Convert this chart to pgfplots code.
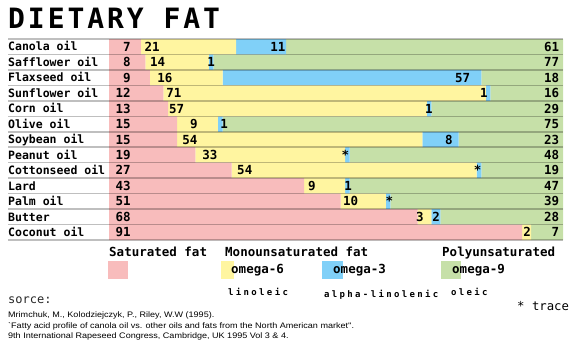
\documentclass[border=0pt]{standalone}
\usepackage{pgfplots}
\pgfplotsset{compat=1.18}
\usepackage{pgfplotstable}
\usepackage{fontspec}
\setmainfont{DejaVu Sans Mono}
\newfontfamily\mono{DejaVu Sans Mono}
\newfontfamily\monols{DejaVu Sans Mono}[LetterSpace=26]
\newfontfamily\titlefont{DejaVu Sans Mono}[LetterSpace=10.5]
\newfontfamily\citefont{Liberation Sans}[FakeStretch=1.13]
\definecolor{pinkc}{HTML}{F8BCBC}
\definecolor{yelc}{HTML}{FFF5A0}
\definecolor{bluec}{HTML}{80D0F8}
\definecolor{greenc}{HTML}{C6E0A8}

\pgfplotstableread{
row sat om6 om3 om9
0 7 21 11 61
1 8 14 1 77
2 9 16 57 18
3 12 71 1 16
4 13 57 1 29
5 15 9 1 75
6 15 54 8 23
7 19 33 1 48
8 27 54 1 19
9 43 9 1 47
10 51 10 1 39
11 68 3 2 28
12 91 2 0 7
}\fatdata

\newcommand{\numfont}{\mono\bfseries\fontsize{12.5bp}{14bp}\selectfont}

\begin{document}
\begin{tikzpicture}
\path[use as bounding box] (0,0) rectangle (580bp,-347bp);
\pgfplotsset{common/.style={
  at={(109bp,-39bp)}, anchor=north west,
  scale only axis, width=454bp, height=201bp,
  xmin=0, xmax=100, ymin=-0.5, ymax=12.5, y dir=reverse}}
\begin{axis}[common,
  xbar stacked, bar width=15.4615bp,
  hide x axis,
  y axis line style={draw=none},
  major tick length=0pt,
  ytick={0,...,12},
  yticklabels={Canola oil,Safflower oil,Flaxseed oil,Sunflower oil,Corn oil,Olive oil,Soybean oil,Peanut oil,Cottonseed oil,Lard,Palm oil,Butter,Coconut oil},
  yticklabel style={anchor=west, inner sep=0pt, xshift=-101bp, text height=8.4bp, text depth=0pt,
    font=\mono\bfseries\fontsize{11.5bp}{12bp}\selectfont},
]
\addplot[fill=pinkc, draw=none] table[x=sat,y=row]{\fatdata};
\addplot[fill=yelc, draw=none] table[x=om6,y=row]{\fatdata};
\addplot[fill=bluec, draw=none] table[x=om3,y=row]{\fatdata};
\addplot[fill=greenc, draw=none] table[x=om9,y=row]{\fatdata};
\end{axis}
\begin{axis}[common, hide axis, clip=false,
  every node near coord/.append style={inner sep=0pt, text height=9.1bp, text depth=0pt, font=\numfont, black},
  nodes near coords={\pgfplotspointmeta}, point meta=explicit symbolic]
\addplot[only marks, mark=none, every node near coord/.append style={anchor=east}] coordinates {
(4.8,0)[7] (4.8,1)[8] (4.8,2)[9] (4.8,3)[12] (4.8,4)[13] (4.8,5)[15] (4.8,6)[15]
(4.8,7)[19] (4.8,8)[27] (4.8,9)[43] (4.8,10)[51] (4.8,11)[68] (4.8,12)[91]};
\addplot[only marks, mark=none, every node near coord/.append style={anchor=west}] coordinates {
(7.8,0)[21] (9.0,1)[14] (10.6,2)[16] (12.6,3)[71] (13.2,4)[57] (17.8,5)[9] (16.1,6)[54]
(20.5,7)[33] (28.2,8)[54] (43.8,9)[9] (51.5,10)[10] (67.6,11)[3] (91.2,12)[2]};
\addplot[only marks, mark=none, every node near coord/.append style={anchor=west}] coordinates {
(35.5,0)[11] (21.6,1)[1] (76.2,2)[57] (81.7,3)[1] (69.6,4)[1] (24.5,5)[1] (74,6)[8]
(51.2,7)[*] (80.3,8)[*] (51.8,9)[1] (60.9,10)[*] (71.2,11)[2]};
\addplot[only marks, mark=none, every node near coord/.append style={anchor=east}] coordinates {
(99.2,0)[61] (99.2,1)[77] (99.2,2)[18] (99.2,3)[16] (99.2,4)[29] (99.2,5)[75] (99.2,6)[23]
(99.2,7)[48] (99.2,8)[19] (99.2,9)[47] (99.2,10)[39] (99.2,11)[28] (99.2,12)[7]};
\end{axis}
\foreach \i in {0,...,13}
  \draw[black, opacity=0.25, line width=1.5bp] (8bp,{-39bp-\i*15.4615bp}) -- (563bp,{-39bp-\i*15.4615bp});
% title
\node[anchor=west, inner sep=0pt] at (8bp,-18bp) {\titlefont\bfseries\fontsize{28bp}{30bp}\selectfont DIETARY FAT};
% legend
\begin{scope}[every node/.style={anchor=west, inner sep=0pt, text height=9.1bp, text depth=0pt}]
\node at (109bp,-252bp) {\mono\bfseries\fontsize{12.5bp}{14bp}\selectfont Saturated fat};
\node at (225bp,-252bp) {\mono\bfseries\fontsize{12.5bp}{14bp}\selectfont Monounsaturated fat};
\node at (442bp,-252bp) {\mono\bfseries\fontsize{12.5bp}{14bp}\selectfont Polyunsaturated};
\fill[pinkc] (108bp,-261bp) rectangle (128bp,-279bp);
\fill[yelc] (221bp,-261bp) rectangle (234bp,-279bp);
\fill[bluec] (322bp,-261bp) rectangle (343bp,-279bp);
\fill[greenc] (441bp,-261bp) rectangle (461bp,-279bp);
\node at (231bp,-269bp) {\mono\bfseries\fontsize{12.5bp}{14bp}\selectfont omega-6};
\node at (333bp,-269bp) {\mono\bfseries\fontsize{12.5bp}{14bp}\selectfont omega-3};
\node at (452bp,-269bp) {\mono\bfseries\fontsize{12.5bp}{14bp}\selectfont omega-9};
\end{scope}
\begin{scope}[every node/.style={anchor=west, inner sep=0pt, text height=6.5bp, text depth=0pt}]
\node at (228bp,-292bp) {\monols\bfseries\fontsize{9bp}{10bp}\selectfont linoleic};
\node at (324bp,-294bp) {\monols\bfseries\fontsize{9bp}{10bp}\selectfont alpha-linolenic};
\node at (451bp,-292bp) {\monols\bfseries\fontsize{9bp}{10bp}\selectfont oleic};
\end{scope}
\node[anchor=west, inner sep=0pt, text height=6.6bp, text depth=0pt] at (517bp,-307bp) {\mono\fontsize{12.3bp}{14bp}\selectfont * trace};
\node[anchor=west, inner sep=0pt, text height=6.6bp, text depth=0pt, text=black!85] at (8bp,-300bp) {\mono\fontsize{12bp}{14bp}\selectfont sorce:};
\begin{scope}[every node/.style={anchor=west, inner sep=0pt, text height=5.2bp, text depth=0pt}]
\node at (8bp,-315bp) {\citefont\fontsize{8bp}{9bp}\selectfont Mrimchuk, M., Kolodziejczyk, P., Riley, W.W (1995).};
\node at (8bp,-325.5bp) {\citefont\fontsize{8bp}{9bp}\selectfont `Fatty acid profile of canola oil vs. other oils and fats from the North American market''.};
\node at (8bp,-336bp) {\citefont\fontsize{8bp}{9bp}\selectfont 9th International Rapeseed Congress, Cambridge, UK 1995 Vol 3 \& 4.};
\end{scope}
\end{tikzpicture}
\end{document}
